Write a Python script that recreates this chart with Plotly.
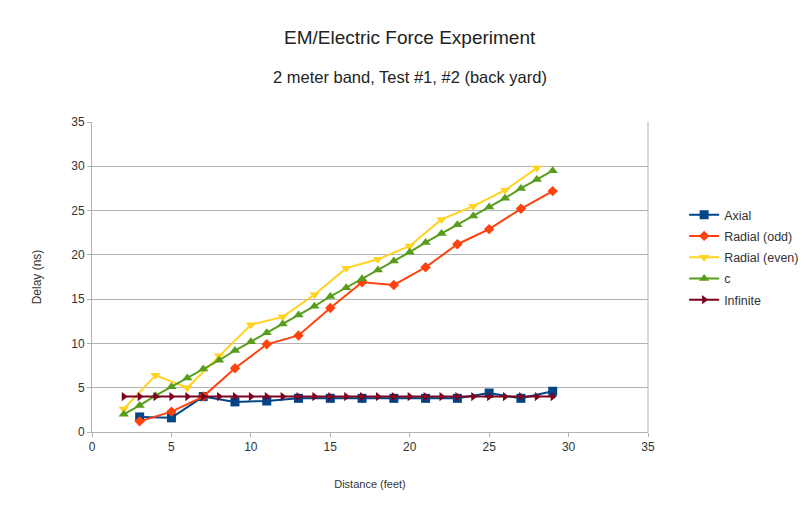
import plotly.graph_objects as go

# Data
axial_x = [3, 5, 7, 9, 11, 13, 15, 17, 19, 21, 23, 25, 27, 29]
axial_y = [1.7, 1.6, 4.0, 3.4, 3.5, 3.8, 3.8, 3.8, 3.8, 3.8, 3.8, 4.4, 3.8, 4.6]

radial_odd_x = [3, 5, 7, 9, 11, 13, 15, 17, 19, 21, 23, 25, 27, 29]
radial_odd_y = [1.2, 2.3, 4.0, 7.2, 9.9, 10.9, 14.0, 16.9, 16.6, 18.6, 21.2, 22.9, 25.2, 27.2]

radial_even_x = [2, 4, 6, 8, 10, 12, 14, 16, 18, 20, 22, 24, 26, 28]
radial_even_y = [2.6, 6.4, 5.0, 8.6, 12.1, 13.0, 15.5, 18.5, 19.5, 21.0, 24.0, 25.5, 27.3, 29.8]

c_x = list(range(2, 30))
c_y = [2.0, 3.0, 4.1, 5.1, 6.1, 7.1, 8.1, 9.2, 10.2, 11.2, 12.2, 13.2, 14.2, 15.3,
       16.3, 17.3, 18.3, 19.3, 20.3, 21.4, 22.4, 23.4, 24.4, 25.4, 26.4, 27.5, 28.5, 29.5]

inf_x = list(range(2, 30))
inf_y = [4.0] * 28

fig = go.Figure()

series = [
    ("Axial", axial_x, axial_y, "#004586", "square", 9),
    ("Radial (odd)", radial_odd_x, radial_odd_y, "#ff420e", "diamond", 8),
    ("Radial (even)", radial_even_x, radial_even_y, "#ffd320", "triangle-down", 9),
    ("c", c_x, c_y, "#579d1c", "triangle-up", 9),
    ("Infinite", inf_x, inf_y, "#7e0021", "triangle-right", 8),
]
for name, x, y, col, sym, sz in series:
    fig.add_trace(go.Scatter(
        x=x, y=y, name=name, mode="lines+markers", legendgroup=name,
        line=dict(color=col, width=2),
        marker=dict(color=col, symbol=sym, size=sz),
    ))

# figure sized so the page (with its 8px body margin) fills 812x507 exactly
W, H = 796, 491
L, R, T, B = 84, 156, 114, 67
pw, ph = W - L - R, H - T - B


def px_x(x):
    return (x - L) / pw


def px_y(y):
    return (H - B - y) / ph


font = "Liberation Sans, Arial, sans-serif"
fig.update_layout(
    width=W, height=H,
    margin=dict(l=L, r=R, t=T, b=B, autoexpand=False),
    paper_bgcolor="white", plot_bgcolor="white",
    font=dict(family=font, size=12, color="#333333"),
    showlegend=True,
    legend=dict(x=1.065, y=px_y(249.5), xanchor="left", yanchor="middle",
                font=dict(size=12.5, color="#333333"),
                traceorder="grouped", tracegroupgap=2,
                bgcolor="rgba(0,0,0,0)"),
    annotations=[
        dict(text="EM/Electric Force Experiment", x=px_x(402), y=px_y(30),
             xref="paper", yref="paper", xanchor="center", yanchor="middle",
             showarrow=False, font=dict(size=19, color="#222222")),
        dict(text="2 meter band, Test #1, #2 (back yard)", x=px_x(402), y=px_y(69),
             xref="paper", yref="paper", xanchor="center", yanchor="middle",
             showarrow=False, font=dict(size=16.5, color="#222222")),
    ],
)

fig.update_xaxes(
    range=[0, 35], dtick=5, showgrid=False, zeroline=False,
    showline=True, linecolor="#b3b3b3", linewidth=1,
    ticks="outside", ticklen=4, tickcolor="#b3b3b3",
    title=dict(text="Distance (feet)", font=dict(size=11, color="#333333"), standoff=26),
    tickfont=dict(size=12, color="#333333"),
)
fig.update_yaxes(
    range=[0, 35], dtick=5, showgrid=True, gridcolor="#b3b3b3", gridwidth=1,
    zeroline=False, showline=True, linecolor="#b3b3b3", linewidth=1,
    ticks="outside", ticklen=4, tickcolor="#b3b3b3",
    title=dict(text="Delay (ns)", font=dict(size=12, color="#333333"), standoff=27),
    tickfont=dict(size=12, color="#333333"),
)
# right border of plot area
fig.add_shape(type="line", xref="paper", yref="paper", x0=1, x1=1, y0=0, y1=1,
              line=dict(color="#b3b3b3", width=1))

fig.write_html("out.html")
